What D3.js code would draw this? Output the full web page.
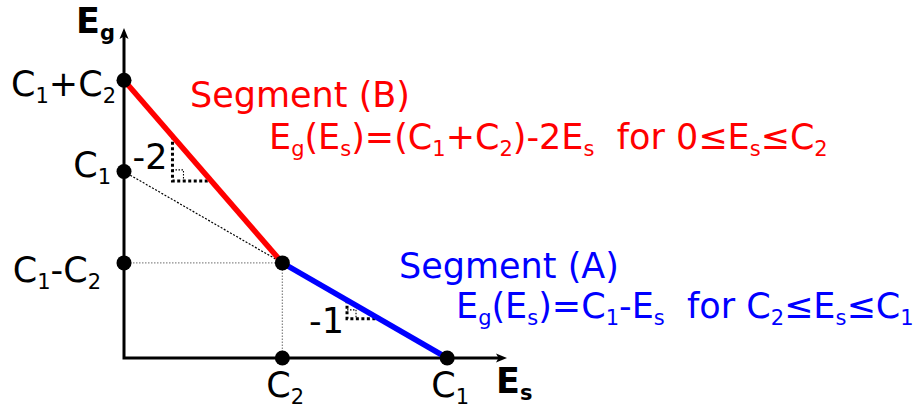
<!DOCTYPE html>
<html>
<head>
<meta charset="utf-8">
<script src="https://cdn.jsdelivr.net/npm/d3@7"></script>
<style>
  html, body { margin: 0; padding: 0; background: #fff; }
  svg { display: block; font-family: "DejaVu Sans", sans-serif; }
  text { white-space: pre; }
</style>
</head>
<body>
<svg id="chart" width="922" height="410"></svg>
<script>
// Constants of the piecewise-linear relation
const C1 = 2.0;
const C2 = 0.98;

// Tick positions and labels ("_x" marks a subscript character)
const yTicks = [C1 + C2, C1, C1 - C2];
const yTickLabels = ["C_1+C_2", "C_1", "C_1-C_2"];
const xTicks = [C2, C1];
const xTickLabels = ["C_2", "C_1"];

// Segment end points (Es, Eg)
const segmentB = [[0, C1 + C2], [C2, C1 - C2]];
const segmentA = [[C2, C1 - C2], [C1, 0]];

// Slope indicators: start Es, run length, slope label
const slopeB = [0.30, 0.24, "-2"];
const slopeA = [1.38, 0.20, "-1"];

// Text
const labelB = ["Segment (B)", "E_g(E_s)=(C_1+C_2)-2E_s  for 0\u2264E_s\u2264C_2"];
const labelA = ["Segment (A)", "E_g(E_s)=C_1-E_s  for C_2\u2264E_s\u2264C_1"];
const axisLabels = ["E_s", "E_g"];

const fB = es => C1 + C2 - 2 * es;
const fA = es => C1 - es;

const svg = d3.select("#chart");
const x = d3.scaleLinear().domain([0, 2.37]).range([124, 507]);
const y = d3.scaleLinear().domain([0, 3.54]).range([358, 28]);

// Writes a string with "_x" subscripts into a text element
function rich(sel, str, size) {
  const sub = Math.round(size * 0.6);
  const shift = Math.round(size * 0.2);
  let i = 0, down = false;
  while (i < str.length) {
    if (str[i] === "_") {
      sel.append("tspan").attr("font-size", sub).attr("dy", shift).text(str[i + 1]);
      down = true;
      i += 2;
    } else {
      let j = i;
      while (j < str.length && str[j] !== "_") j++;
      const t = sel.append("tspan").text(str.slice(i, j));
      if (down) { t.attr("dy", -shift); down = false; }
      i = j;
    }
  }
  return sel;
}

const FS = 35;

// Guide lines
svg.append("line")
  .attr("x1", x(0)).attr("y1", y(C1 - C2)).attr("x2", x(C2)).attr("y2", y(C1 - C2))
  .attr("stroke", "#8a8a8a").attr("stroke-width", 1.3).attr("stroke-dasharray", "1.5,1.5");
svg.append("line")
  .attr("x1", x(C2)).attr("y1", y(0)).attr("x2", x(C2)).attr("y2", y(C1 - C2))
  .attr("stroke", "#8a8a8a").attr("stroke-width", 1.3).attr("stroke-dasharray", "1.5,1.5");
svg.append("line")
  .attr("x1", x(0)).attr("y1", y(C1)).attr("x2", x(C2)).attr("y2", y(C1 - C2))
  .attr("stroke", "#000").attr("stroke-width", 1.2).attr("stroke-dasharray", "2,1.6");

// Axes
svg.append("path")
  .attr("d", `M${x(0)},${y(3.54) + 6} L${x(0)},${y(0)} L${x(2.37) - 6},${y(0)}`)
  .attr("fill", "none").attr("stroke", "#000").attr("stroke-width", 3);
svg.append("path")
  .attr("transform", `translate(${x(0)},${y(3.54)})`)
  .attr("d", "M0,0 L-4.5,11 L0,8.5 L4.5,11 Z").attr("fill", "#000");
svg.append("path")
  .attr("transform", `translate(${x(2.37)},${y(0)}) rotate(90)`)
  .attr("d", "M0,0 L-4.5,11 L0,8.5 L4.5,11 Z").attr("fill", "#000");

// Slope indicators
function slopeMark(f, spec, corner, labelPos) {
  const [x0, d, lab] = spec;
  const pts = [[x0, f(x0)], [x0, f(x0 + d)], [x0 + d, f(x0 + d)]];
  svg.append("path")
    .attr("d", d3.line().x(p => x(p[0])).y(p => y(p[1]))(pts))
    .attr("fill", "none").attr("stroke", "#000").attr("stroke-width", 3)
    .attr("stroke-dasharray", "3,2.5");
  const cx = x(x0), cy = y(f(x0 + d));
  svg.append("path")
    .attr("d", `M${cx},${cy - corner} L${cx + corner},${cy - corner} L${cx + corner},${cy}`)
    .attr("fill", "none").attr("stroke", "#000").attr("stroke-width", 1.1)
    .attr("stroke-dasharray", "1.5,1.5");
  svg.append("text").attr("x", cx + labelPos[0]).attr("y", cy + labelPos[1])
    .attr("text-anchor", "end").attr("font-size", FS).text(lab);
}
slopeMark(fB, slopeB, 11, [-5, -12]);
slopeMark(fA, slopeA, 9, [-3, 14]);

// Segments
const line = d3.line().x(p => x(p[0])).y(p => y(p[1]));
svg.append("path").attr("d", line(segmentB))
  .attr("stroke", "#ff0000").attr("stroke-width", 5.5).attr("fill", "none");
svg.append("path").attr("d", line(segmentA))
  .attr("stroke", "#0000ff").attr("stroke-width", 5.5).attr("fill", "none");

// Key points
const dots = yTicks.map(v => [0, v])
  .concat(xTicks.map(v => [v, 0]))
  .concat([[C2, C1 - C2]]);
svg.selectAll("circle.pt").data(dots).join("circle")
  .attr("class", "pt")
  .attr("cx", d => x(d[0])).attr("cy", d => y(d[1])).attr("r", 7.5).attr("fill", "#000");

// Tick labels
const yLabelX = [116, 111, 101];
const yLabelDy = [16, 5, 19];
yTicks.forEach((v, i) => {
  rich(svg.append("text").attr("x", yLabelX[i]).attr("y", y(v) + yLabelDy[i])
    .attr("text-anchor", "end").attr("font-size", FS), yTickLabels[i], FS);
});
xTicks.forEach((v, i) => {
  rich(svg.append("text").attr("x", x(v) - 16).attr("y", 397)
    .attr("font-size", FS), xTickLabels[i], FS);
});

// Axis titles
rich(svg.append("text").attr("x", 496).attr("y", 393)
  .attr("font-size", 35).attr("font-weight", "bold"), axisLabels[0], 35);
rich(svg.append("text").attr("x", 76).attr("y", 33)
  .attr("font-size", 35).attr("font-weight", "bold"), axisLabels[1], 35);

// Segment annotations
svg.append("text").attr("x", 190).attr("y", 107).attr("font-size", FS)
  .attr("fill", "#ff0000").text(labelB[0]);
rich(svg.append("text").attr("x", 269).attr("y", 149).attr("font-size", FS)
  .attr("fill", "#ff0000"), labelB[1], FS);
svg.append("text").attr("x", 399).attr("y", 278).attr("font-size", FS)
  .attr("fill", "#0000ff").text(labelA[0]);
rich(svg.append("text").attr("x", 456).attr("y", 318).attr("font-size", FS)
  .attr("fill", "#0000ff"), labelA[1], FS);
</script>
</body>
</html>
